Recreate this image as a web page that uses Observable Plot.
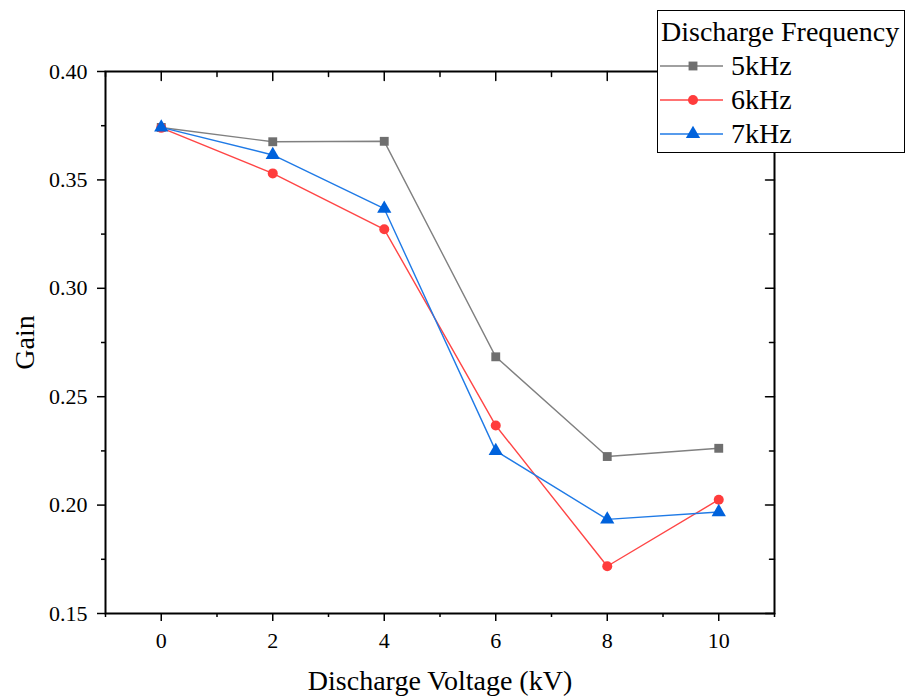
<!DOCTYPE html>
<html>
<head>
<meta charset="utf-8">
<script src="https://cdn.jsdelivr.net/npm/d3@7"></script>
<script src="https://cdn.jsdelivr.net/npm/@observablehq/plot@0.6"></script>
<style>
  html, body { margin: 0; padding: 0; background: #fff; }
  #wrap { position: relative; width: 909px; height: 700px; font-family: "Liberation Serif", "Times New Roman", serif; }
  #wrap svg text { font-family: "Liberation Serif", "Times New Roman", serif; }
  #legend { position: absolute; left: 657px; top: 10px; width: 248px; height: 143px; border: 1px solid #000; background: #fff; box-sizing: border-box; }
  #legend .title { position: absolute; left: 3px; top: 4px; font-size: 28px; line-height: 34px; white-space: nowrap; }
  #legend .row { position: absolute; left: 2px; height: 34px; display: flex; align-items: center; font-size: 28px; line-height: 34px; }
</style>
</head>
<body>
<div id="wrap"></div>
<script>
const voltages = [0, 2, 4, 6, 8, 10];
const seriesNames = ["5kHz", "6kHz", "7kHz"];
const gain5 = [0.3742, 0.3676, 0.3678, 0.2684, 0.2224, 0.2262];
const gain6 = [0.3740, 0.3530, 0.3272, 0.2367, 0.1718, 0.2025];
const gain7 = [0.3742, 0.3615, 0.3367, 0.2250, 0.1934, 0.1968];
const lineColors = ["#808080", "#ff4545", "#1f7ae6"];
const markerColors = ["#6f6f6f", "#ff3c3c", "#0062dc"];
const symbols = ["square", "circle", "triangle"];
const xMajor = [0, 2, 4, 6, 8, 10];
const xMinor = [-1, 1, 3, 5, 7, 9, 11];
const yMajor = [0.15, 0.20, 0.25, 0.30, 0.35, 0.40];
const yMinor = [0.175, 0.225, 0.275, 0.325, 0.375];
const font = "Liberation Serif";

const allGains = [gain5, gain6, gain7];
const data = [];
seriesNames.forEach((s, i) => voltages.forEach((v, j) => data.push({series: s, v, g: allGains[i][j]})));

const tickShape = {draw(ctx, l) { ctx.moveTo(0, 0); ctx.lineTo(0, -l); }};

const marks = [
  Plot.frame({stroke: "#000", strokeWidth: 2}),
  Plot.axisX({ticks: xMajor, tickSize: 8, tickPadding: 11, fontSize: 22, fontFamily: font, strokeWidth: 1.5, label: null}),
  Plot.axisX({ticks: [], label: "Discharge Voltage (kV)", labelAnchor: "center", labelArrow: "none", labelOffset: 76, fontSize: 28, fontFamily: font}),
  Plot.axisX({ticks: xMinor, tickSize: 4, tickFormat: () => "", label: null, strokeWidth: 1.5}),
  Plot.axisY({ticks: yMajor, tickSize: 8, tickPadding: 10, fontSize: 22, fontFamily: font, strokeWidth: 1.5, tickFormat: d3.format(".2f"), label: null}),
  Plot.axisY({ticks: [], label: "Gain", labelAnchor: "center", labelArrow: "none", labelOffset: 91, fontSize: 28, fontFamily: font}),
  Plot.axisY({ticks: yMinor, tickSize: 4, tickFormat: () => "", label: null, strokeWidth: 1.5}),
  Plot.vector(xMajor, {x: d => d, frameAnchor: "top", rotate: 180, length: 9, anchor: "start", shape: tickShape, stroke: "#000", strokeWidth: 1.5}),
  Plot.vector(xMinor, {x: d => d, frameAnchor: "top", rotate: 180, length: 5, anchor: "start", shape: tickShape, stroke: "#000", strokeWidth: 1.5}),
  Plot.vector(yMajor, {y: d => d, frameAnchor: "right", rotate: 270, length: 9, anchor: "start", shape: tickShape, stroke: "#000", strokeWidth: 1.5}),
  Plot.vector(yMinor, {y: d => d, frameAnchor: "right", rotate: 270, length: 5, anchor: "start", shape: tickShape, stroke: "#000", strokeWidth: 1.5})
];
seriesNames.forEach((s, i) => {
  const d = data.filter(r => r.series === s);
  marks.push(Plot.line(d, {x: "v", y: "g", stroke: lineColors[i], strokeWidth: 1.4}));
  marks.push(Plot.dot(d, {x: "v", y: "g", symbol: () => symbols[i], fill: markerColors[i], stroke: "none", r: i === 2 ? 5.3 : 5}));
});

const chart = Plot.plot({
  width: 909,
  height: 700,
  marginLeft: 105,
  marginRight: 135,
  marginTop: 71,
  marginBottom: 87,
  style: {fontFamily: "'Liberation Serif', 'Times New Roman', serif", fontSize: "22px", color: "#000", background: "#fff"},
  x: {domain: [-1, 11]},
  y: {domain: [0.15, 0.40]},
  marks
});
document.getElementById("wrap").appendChild(chart);

// legend
const legend = document.createElement("div");
legend.id = "legend";
const title = document.createElement("div");
title.className = "title";
title.textContent = "Discharge Frequency";
legend.appendChild(title);
seriesNames.forEach((s, i) => {
  const row = document.createElement("div");
  row.className = "row";
  row.style.top = (38 + i * 34) + "px";
  const sym = d3.symbol(i === 0 ? d3.symbolSquare : i === 1 ? d3.symbolCircle : d3.symbolTriangle, Math.PI * (i === 2 ? 28 : 25))();
  row.innerHTML = `<svg width="64" height="34"><line x1="0" x2="63" y1="17" y2="17" stroke="${lineColors[i]}" stroke-width="1.4"/><path d="${sym}" transform="translate(33,17)" fill="${markerColors[i]}"/></svg><span style="margin-left:7px">${s}</span>`;
  legend.appendChild(row);
});
document.getElementById("wrap").appendChild(legend);
</script>
</body>
</html>
